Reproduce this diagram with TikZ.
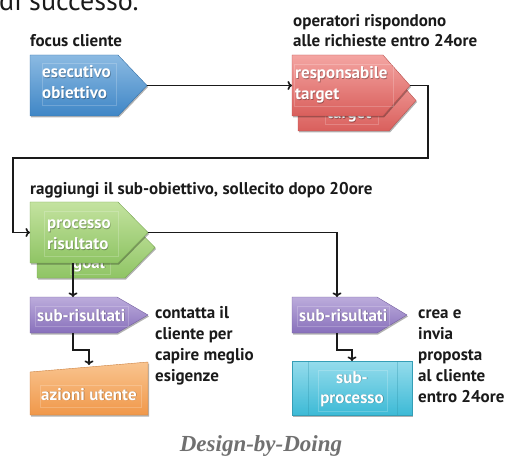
\documentclass[tikz,border=0pt]{standalone}
\usepackage{fontspec}
\setmainfont{PT Sans}
\newfontfamily\dbdfont{Liberation Serif}
\usetikzlibrary{arrows.meta,shadows}
\definecolor{ink}{HTML}{1A1A1A}
\definecolor{blueT}{HTML}{8BBAE2}\definecolor{blueB}{HTML}{3F86C6}
\definecolor{redT}{HTML}{F4A5A2}\definecolor{redB}{HTML}{D95F5C}
\definecolor{greenT}{HTML}{C4E3A0}\definecolor{greenB}{HTML}{8FC464}
\definecolor{purpT}{HTML}{BCACDC}\definecolor{purpB}{HTML}{8870BB}
\definecolor{orT}{HTML}{F9C48F}\definecolor{orB}{HTML}{F0984A}
\definecolor{cyT}{HTML}{95DCEC}\definecolor{cyB}{HTML}{3DBAD6}
\definecolor{dbdgray}{HTML}{707070}
\newcommand{\pentshape}[6]{\path[#1] (#2,#3) -- (#4,#3) -- (#5,{(#3+#6)/2}) -- (#4,#6) -- (#2,#6) -- cycle;}
\newcommand{\btxt}[4][]{\node[boxsh,#1,xshift=0.7pt,yshift=-0.9pt] (#2-s) at (#3) {#4};\node[boxtxt,#1] (#2) at (#3) {#4};}
\tikzset{
  shp/.style={drop shadow={shadow xshift=1pt,shadow yshift=-1.5pt,opacity=0.3,fill=black}},
  blueshape/.style={shp,top color=blueT,bottom color=blueB,draw=blueB!85!black,line width=0.4pt},
  redshape/.style={shp,top color=redT,bottom color=redB,draw=redB!85!black,line width=0.4pt},
  greenshape/.style={shp,top color=greenT,bottom color=greenB,draw=greenB!85!black,line width=0.4pt},
  purpshape/.style={shp,top color=purpT,bottom color=purpB,draw=purpB!85!black,line width=0.4pt},
  orshape/.style={shp,top color=orT,bottom color=orB,draw=orB!85!black,line width=0.4pt},
  cyshape/.style={shp,top color=cyT,bottom color=cyB,draw=cyB!85!black,line width=0.4pt},
  frame/.style={draw=white,opacity=0.2,line width=0.5pt},
  lbl/.style={font=\bfseries\fontsize{17}{19}\selectfont,text=ink,inner sep=0,anchor=base west},
  boxtxt/.style={font=\bfseries\fontsize{17}{20}\selectfont,text=white,inner sep=0,anchor=base west},
  boxsh/.style={boxtxt,text=black,opacity=0.3},
  conn/.style={draw=ink,line width=1.6pt,-{To[length=4.5pt,width=9pt]}},
}
\begin{document}
\begin{tikzpicture}[x=1pt,y=-1pt]
\useasboundingbox (0,0) rectangle (507,460);
\begin{scope}
\clip (0,0) rectangle (507,460);
\node[anchor=base west,inner sep=0,text=ink,font=\fontsize{28}{30}\selectfont] (title) at (-1,11) {di successo.};
\end{scope}
% labels
\node[lbl] (focus) at (30,47) {focus cliente};
\node[lbl] (op1) at (293,27) {operatori rispondono};
\node[lbl] (op2) at (293,47) {alle richieste entro 24ore};
\node[lbl] (ragg) at (30,195) {raggiungi il sub-obiettivo, sollecito dopo 20ore};
\node[lbl] (ct1) at (155,318) {contatta il};
\node[lbl] (ct2) at (155,339) {cliente per};
\node[lbl] (ct3) at (155,360) {capire meglio};
\node[lbl] (ct4) at (155,381) {esigenze};
\node[lbl] (cr1) at (418,318) {crea e};
\node[lbl] (cr2) at (418,339) {invia};
\node[lbl] (cr3) at (418,360) {proposta};
\node[lbl] (cr4) at (418,381) {al cliente};
\node[lbl] (cr5) at (418,402) {entro 24ore};
% blue
\pentshape{blueshape}{30}{55}{118}{147}{116}
\draw[frame] (42,63) rectangle (116,105);
\btxt{b1}{42,78}{esecutivo}
\btxt{b2}{42,99}{obiettivo}
% red
\pentshape{redshape}{298}{70}{389}{416}{131}
\draw[frame] (325,103) rectangle (378,124);
\btxt{rb}{327,119}{target}
\pentshape{redshape}{292}{55}{383}{410}{116}
\draw[frame] (294,64) rectangle (393,106);
\btxt{r1}{295,79}{responsabile}
\btxt{r2}{295,100}{target}
% green
\pentshape{greenshape}{37}{217}{125}{155}{278}
\draw[frame] (70,255) rectangle (110,274);
\btxt{gb}{73,268}{goal}
\pentshape{greenshape}{30}{202}{118}{148}{263}
\draw[frame] (44,211) rectangle (118,256);
\btxt{g1}{47,229}{processo}
\btxt{g2}{47,250}{risultato}
% purple
\pentshape{purpshape}{30}{297}{117}{148}{333}
\draw[frame] (35,306) rectangle (128,326);
\btxt{pl}{37,321}{sub-risultati}
\pentshape{purpshape}{292}{297}{377}{407}{333}
\draw[frame] (297,306) rectangle (389,326);
\btxt{pr}{299,321}{sub-risultati}
% orange
\path[orshape] (30,372) -- (148,362) -- (148,415) -- (30,415) -- cycle;
\draw[frame] (40,385) rectangle (141,407);
\btxt{ou}{41,400}{azioni utente}
% cyan
\path[cyshape] (292,361) rectangle (412,415);
\draw[draw=cyB!80!black,opacity=0.35,line width=0.5pt] (308,361) -- (308,415) (397,361) -- (397,415);
\draw[frame] (318,370) rectangle (387,411);
\btxt[anchor=base]{c1}{352,383}{sub-}
\btxt[anchor=base]{c2}{352,403}{processo}
% ports
\coordinate (b-out) at (147,85.5);
\coordinate (r-in) at (292,85.5);
\coordinate (r-out) at (410,85.5);
\coordinate (loopR) at (428,158);
\coordinate (loopL) at (13,158);
\coordinate (g-in) at (30,232.5);
\coordinate (g-out) at (148,232.5);
\coordinate (g-bot) at (73,263);
\coordinate (pL-in) at (73,297);
\coordinate (pR-in) at (337,297);
\coordinate (pL-bot) at (73,333);
\coordinate (pL-mid) at (73,350);
\coordinate (o-in) at (89,365);
\coordinate (pR-bot) at (337,333);
\coordinate (pR-mid) at (337,350);
\coordinate (c-in) at (352,361);
% connectors
\draw[conn] (b-out) -- (r-in);
\draw[conn] (r-out) -| (loopR) -- (loopL) |- (g-in);
\draw[conn] (g-out) -| (pR-in);
\draw[conn] (g-bot) -- (pL-in);
\draw[conn] (pL-bot) -- (pL-mid) -| (o-in);
\draw[conn] (pR-bot) -- (pR-mid) -| (c-in);
% footer
\node[anchor=base,inner sep=0,text=dbdgray,font=\dbdfont\bfseries\itshape\fontsize{23}{25}\selectfont] (dbd) at (261,451) {Design-by-Doing};
\end{tikzpicture}
\end{document}
